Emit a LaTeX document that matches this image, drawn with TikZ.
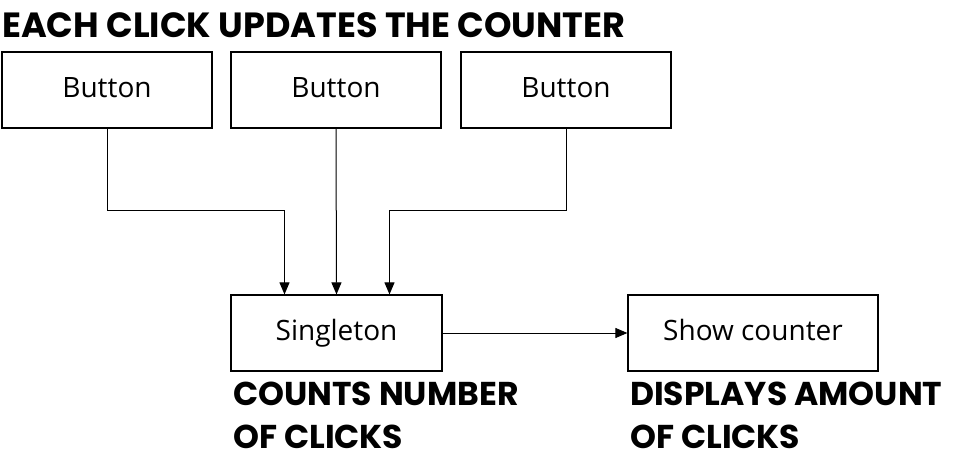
\documentclass[tikz,border=0pt]{standalone}
\usepackage{fontspec}
\setmainfont{Open Sans}
\newfontfamily\headfont{Poppins}
\usetikzlibrary{positioning,arrows.meta,calc}

\begin{document}
\begin{tikzpicture}[x=1pt, y=-1pt,
  box/.style={draw, line width=1.2pt, minimum height=76pt, inner sep=0pt, text height=20pt, text depth=6pt, font=\fontsize{28}{32}\selectfont},
  note/.style={align=left, inner sep=0pt, font=\headfont\bfseries\fontsize{33}{43}\selectfont},
  arr/.style={-{Triangle[length=12pt,width=10pt]}, line width=1pt}]
  \useasboundingbox (0,0) rectangle (975,466);
  \node[note, anchor=west, font=\headfont\bfseries\fontsize{35}{42}\selectfont] (title) at (2,25) {EACH CLICK UPDATES THE COUNTER};
  \node[box, minimum width=210pt] (btnA) at (107,90) {Button};
  \node[box, minimum width=210pt] (btnB) at (336,90) {Button};
  \node[box, minimum width=210pt] (btnC) at (566,90) {Button};
  \node[box, minimum width=211pt] (single) at (336.5,333) {Singleton};
  \node[box, minimum width=250pt] (show) at (753,333) {Show counter};
  \node[note, anchor=north west] (count) at (233,382) {COUNTS NUMBER\\OF CLICKS};
  \node[note, anchor=north west] (disp) at (630,382) {DISPLAYS AMOUNT\\OF CLICKS};
  \coordinate (bend) at (0,210);
  \draw[arr] (btnA.south) -- (btnA.south |- bend) -| ([xshift=-52pt]single.north);
  \draw[arr] (btnB.south) -- (single.north);
  \draw[arr] (btnC.south) -- (btnC.south |- bend) -| ([xshift=53pt]single.north);
  \draw[arr] (single) -- (show);
\end{tikzpicture}
\end{document}
